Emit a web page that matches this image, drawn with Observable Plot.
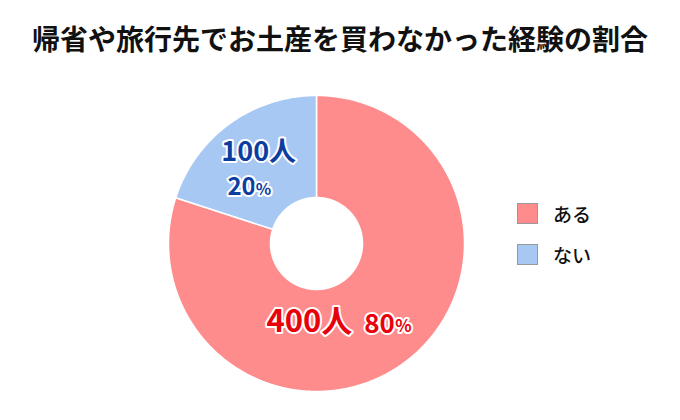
<!DOCTYPE html>
<html><head><meta charset="utf-8">
<script src="https://cdn.jsdelivr.net/npm/d3@7"></script>
<script src="https://cdn.jsdelivr.net/npm/@observablehq/plot@0.6"></script>
<style>
body{margin:0;background:#fff;font-family:"Noto Sans CJK JP",sans-serif;}
#wrap{position:relative;width:680px;height:420px;overflow:hidden;}
#title{position:absolute;left:0;top:18px;width:680px;text-align:center;font-weight:700;font-size:28px;line-height:40px;color:#111;}
#chart{position:absolute;left:0;top:0;}
#legend{position:absolute;left:517px;top:202px;}
.item{display:flex;align-items:center;height:23px;margin-bottom:18px;font-size:19px;font-weight:500;color:#111;}
.sw{width:21px;height:21px;border:1px solid #999;box-sizing:border-box;margin-right:15px;}
</style></head>
<body><div id="wrap"><div id="title">帰省や旅行先でお土産を買わなかった経験の割合</div><div id="chart"></div><div id="legend"></div></div>
<script>
const categories = ["ある", "ない"];
const counts = [400, 100];
const percents = [80, 20];
const fills = ["#FF8C8C", "#A8C8F4"];
const labelColors = ["#E8000B", "#0B3EA0"];

const outerR = 148, innerR = 46, labelR = 100;
const total = d3.sum(counts);
let acc = 0;
const slices = categories.map((c, i) => {
  const a0 = acc / total * 2 * Math.PI;
  acc += counts[i];
  const a1 = acc / total * 2 * Math.PI;
  const mid = (a0 + a1) / 2;
  return {cat: c, i, a0, a1, mid, cx: labelR * Math.sin(mid), cy: labelR * Math.cos(mid),
    count: counts[i], pct: percents[i]};
});
const poly = [];
for (const s of slices) {
  const n = Math.max(8, Math.ceil((s.a1 - s.a0) / 0.01));
  for (let k = 0; k <= n; k++) { const a = s.a0 + (s.a1 - s.a0) * k / n; poly.push({cat: s.cat, x: outerR * Math.sin(a), y: outerR * Math.cos(a)}); }
  for (let k = n; k >= 0; k--) { const a = s.a0 + (s.a1 - s.a0) * k / n; poly.push({cat: s.cat, x: innerR * Math.sin(a), y: innerR * Math.cos(a)}); }
}
const ff = "Noto Sans CJK JP";
const aru = slices.filter(s => s.i === 0), nai = slices.filter(s => s.i === 1);
const common = {x: "cx", y: "cy", fontFamily: ff, fontWeight: 700, stroke: "white", strokeWidth: 4, paintOrder: "stroke"};
const chart = Plot.plot({
  width: 680, height: 420, margin: 0,
  x: {domain: [-316, 364], axis: null},
  y: {domain: [-177, 243], axis: null},
  color: {domain: categories, range: fills},
  marks: [
    Plot.line(poly, {x: "x", y: "y", z: "cat", fill: "cat", stroke: "white", strokeWidth: 1.5, curve: "linear-closed"}),
    Plot.text(nai, {...common, text: d => d.count + "人", fill: labelColors[1], fontSize: 27, dx: 1, dy: -10}),
    Plot.text(nai, {...common, text: d => String(d.pct), fill: labelColors[1], fontSize: 24, textAnchor: "end", dx: -2, dy: 25}),
    Plot.text(nai, {...common, text: () => "%", fill: labelColors[1], fontSize: 16, textAnchor: "start", dx: -2, dy: 27}),
    Plot.text(aru, {...common, text: d => d.count + "人", fill: labelColors[0], fontSize: 31, textAnchor: "end", dx: -23, dy: -2}),
    Plot.text(aru, {...common, text: d => String(d.pct), fill: labelColors[0], fontSize: 26, textAnchor: "start", dx: -11, dy: 0}),
    Plot.text(aru, {...common, text: () => "%", fill: labelColors[0], fontSize: 17, textAnchor: "start", dx: 20, dy: 2})
  ]
});
document.getElementById("chart").appendChild(chart);
const leg = document.getElementById("legend");
categories.forEach((c, i) => {
  const d = document.createElement("div"); d.className = "item";
  d.innerHTML = `<span class="sw" style="background:${fills[i]}"></span><span>${c}</span>`;
  leg.appendChild(d);
});
</script></body></html>
